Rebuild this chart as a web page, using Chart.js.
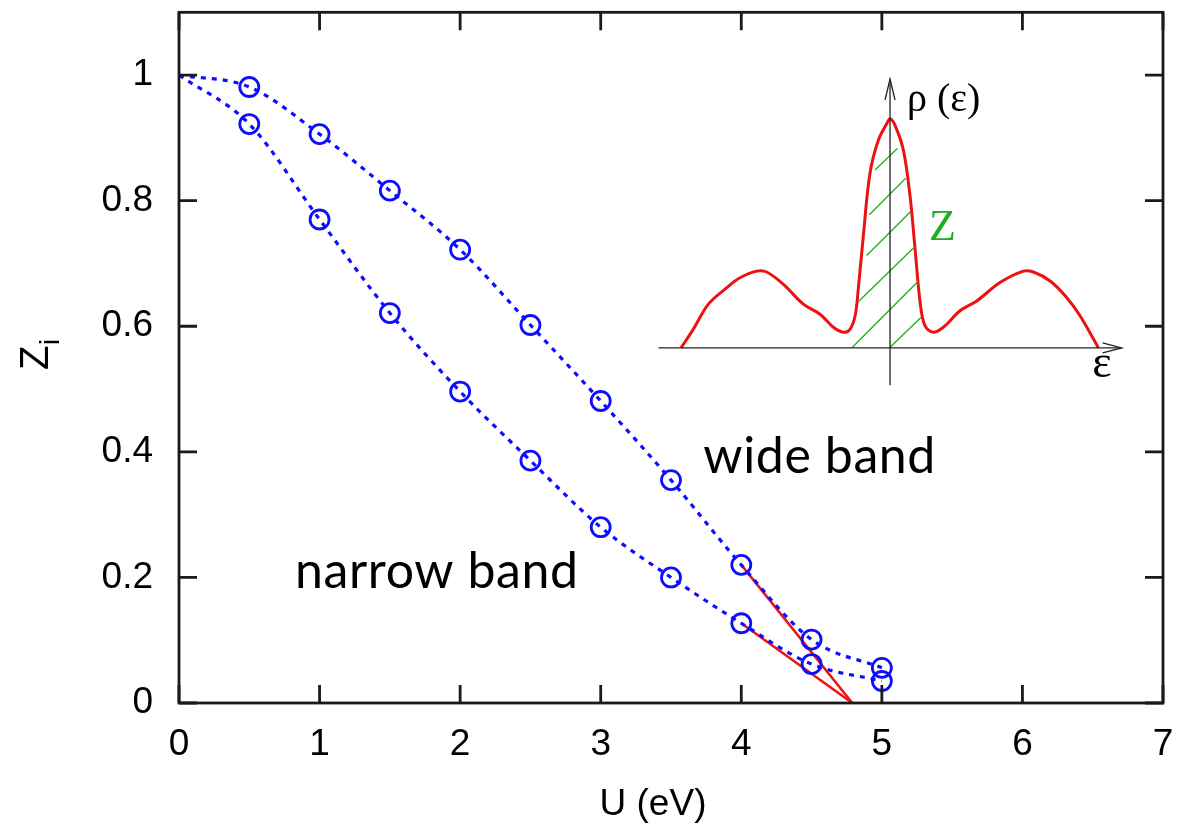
<!DOCTYPE html>
<html>
<head>
<meta charset="utf-8">
<script src="https://cdn.jsdelivr.net/npm/chart.js@4.4.1/dist/chart.umd.min.js"></script>
<style>
  html, body { margin: 0; padding: 0; background: #fff; }
  #wrap { width: 1182px; height: 825px; }
</style>
</head>
<body>
<div id="wrap"><canvas id="zChart"></canvas></div>
<script>
// quasiparticle weight vs U, two bands
var uValues = [0, 0.5, 1, 1.5, 2, 2.5, 3, 3.5, 4, 4.5, 5];
var zWide   = [1, 0.981, 0.906, 0.816, 0.722, 0.602, 0.481, 0.355, 0.220, 0.101, 0.056];
var zNarrow = [1, 0.922, 0.770, 0.621, 0.496, 0.386, 0.280, 0.200, 0.127, 0.062, 0.035];

// red linear extrapolations down to Z = 0
var wideFitU   = [4, 4.79];
var wideFitZ   = [0.220, 0];
var narrowFitU = [4, 4.79];
var narrowFitZ = [0.127, 0];

var xTicks = [0, 1, 2, 3, 4, 5, 6, 7];
var yTicks = [0, 0.2, 0.4, 0.6, 0.8, 1];
var yTickLabels = ['0', '0.2', '0.4', '0.6', '0.8', '1'];

// inset: density of states rho(eps), peak normalised to 1
var dosEps = [-1.0, -0.941, -0.869, -0.781, -0.718, -0.638, -0.590, -0.510, -0.415, -0.335, -0.271, -0.223, -0.191,
              -0.167, -0.152, -0.128, -0.096, -0.056, -0.016, 0, 0.024, 0.064, 0.096, 0.120, 0.144, 0.167,
              0.207, 0.255, 0.335, 0.415, 0.526, 0.638, 0.686, 0.766, 0.845, 0.909, 0.997];
var dosRho = [0, 0.082, 0.191, 0.263, 0.306, 0.335, 0.331, 0.277, 0.191, 0.147, 0.090, 0.068, 0.082,
              0.140, 0.256, 0.487, 0.762, 0.906, 0.978, 1.0, 0.971, 0.863, 0.660, 0.429, 0.198, 0.097,
              0.068, 0.090, 0.162, 0.205, 0.285, 0.335, 0.331, 0.292, 0.220, 0.140, 0];
// hatching under the central peak (start / end of each stroke)
var hatchEpsA = [-0.072, -0.099, -0.112, -0.152, -0.180, 0];
var hatchRhoA = [0.776, 0.581, 0.403, 0.201, 0.003, 0.003];
var hatchEpsB = [0.035, 0.075, 0.099, 0.112, 0.136, 0.148];
var hatchRhoB = [0.870, 0.740, 0.595, 0.436, 0.292, 0.133];
// inset axes extents
var insetAxisEps = [-1.108, 1.108];
var insetAxisRho = [-0.163, 1.173];

var BLUE = '#0d0dff';
var RED = '#ee1111';
var GREEN = '#1fae1f';

function pts(xs, ys) {
    return xs.map(function(x, i){ return {x: x, y: ys[i]}; });
}

var hatchData = [];
hatchEpsA.forEach(function(e, i){
    hatchData.push({x: e, y: hatchRhoA[i]});
    hatchData.push({x: hatchEpsB[i], y: hatchRhoB[i]});
    hatchData.push({x: hatchEpsB[i], y: null});
});

function blueCurve(ys) {
    return {
        data: pts(uValues, ys),
        borderColor: BLUE,
        borderWidth: 3.2,
        borderDash: [5, 6],
        cubicInterpolationMode: 'monotone',
        pointRadius: uValues.map(function(u){ return u === 0 ? 0 : 9.5; }),
        pointBorderWidth: 2.8,
        pointBorderColor: BLUE,
        pointBackgroundColor: 'rgba(0,0,0,0)',
        fill: false
    };
}

function noPad(s) {
    s.paddingTop = 0; s.paddingBottom = 0; s.paddingLeft = 0; s.paddingRight = 0;
}

var framePlugin = {
    id: 'frame',
    afterDatasetsDraw: function(chart) {
        var ctx = chart.ctx, a = chart.chartArea;
        var sx = chart.scales.x, sy = chart.scales.y;
        var si = chart.scales.xi, sr = chart.scales.yi;
        ctx.save();
        // frame + inward ticks on four sides
        ctx.strokeStyle = '#1a1a1a';
        ctx.lineWidth = 2.8;
        ctx.strokeRect(a.left, a.top, a.right - a.left, a.bottom - a.top);
        ctx.beginPath();
        xTicks.forEach(function(v){
            var p = sx.getPixelForValue(v);
            ctx.moveTo(p, a.bottom); ctx.lineTo(p, a.bottom - 18);
            ctx.moveTo(p, a.top); ctx.lineTo(p, a.top + 18);
        });
        yTicks.forEach(function(v){
            var p = sy.getPixelForValue(v);
            ctx.moveTo(a.left, p); ctx.lineTo(a.left + 18, p);
            ctx.moveTo(a.right, p); ctx.lineTo(a.right - 18, p);
        });
        ctx.stroke();

        // inset arrowheads
        ctx.strokeStyle = '#222';
        ctx.lineWidth = 1.3;
        var ex = si.getPixelForValue(insetAxisEps[1]), ey = sr.getPixelForValue(0);
        var tx = si.getPixelForValue(0), ty = sr.getPixelForValue(insetAxisRho[1]);
        ctx.beginPath();
        ctx.moveTo(ex - 19, ey - 5); ctx.lineTo(ex, ey); ctx.lineTo(ex - 19, ey + 5);
        ctx.moveTo(tx - 5, ty + 21); ctx.lineTo(tx, ty); ctx.lineTo(tx + 5, ty + 21);
        ctx.stroke();

        // text labels
        ctx.fillStyle = '#000';
        ctx.textAlign = 'left';
        ctx.textBaseline = 'alphabetic';
        ctx.font = '50px Lato';
        ctx.letterSpacing = '0.6px';
        ctx.fillText('wide band', sx.getPixelForValue(3.73), sy.getPixelForValue(0.367));
        ctx.fillText('narrow band', sx.getPixelForValue(0.826), sy.getPixelForValue(0.183));
        ctx.letterSpacing = '0px';

        ctx.font = '40px "Liberation Serif"';
        ctx.fillText('ρ (ε)', si.getPixelForValue(0.081), sr.getPixelForValue(1.035));
        ctx.font = '46px "Liberation Serif"';
        ctx.fillText('ε', si.getPixelForValue(0.967), sr.getPixelForValue(-0.127));
        ctx.fillStyle = GREEN;
        ctx.font = '44px "Liberation Serif"';
        ctx.fillText('Z', si.getPixelForValue(0.187), sr.getPixelForValue(0.471));

        // axis titles
        ctx.fillStyle = '#000';
        ctx.font = '37px "Liberation Sans"';
        ctx.textAlign = 'center';
        ctx.fillText('U (eV)', 653, 815);
        ctx.translate(48, 370);
        ctx.rotate(-Math.PI / 2);
        ctx.textAlign = 'left';
        ctx.font = '40px "Liberation Sans"';
        ctx.fillText('Z', 0, 0);
        ctx.font = '27px "Liberation Sans"';
        ctx.fillText('i', 25, 11);
        ctx.restore();
    }
};

new Chart(document.getElementById('zChart'), {
    type: 'line',
    data: {
        datasets: [
            blueCurve(zWide),
            blueCurve(zNarrow),
            { data: pts(wideFitU, wideFitZ), borderColor: RED, borderWidth: 2.5, pointRadius: 0, tension: 0 },
            { data: pts(narrowFitU, narrowFitZ), borderColor: RED, borderWidth: 2.5, pointRadius: 0, tension: 0 },
            // inset
            { data: pts(insetAxisEps, [0, 0]), xAxisID: 'xi', yAxisID: 'yi', borderColor: '#222', borderWidth: 1.3, pointRadius: 0 },
            { data: pts([0, 0], insetAxisRho), xAxisID: 'xi', yAxisID: 'yi', borderColor: '#222', borderWidth: 1.3, pointRadius: 0 },
            { data: hatchData, xAxisID: 'xi', yAxisID: 'yi', borderColor: GREEN, borderWidth: 1.3, pointRadius: 0, spanGaps: false },
            { data: pts(dosEps, dosRho), xAxisID: 'xi', yAxisID: 'yi', borderColor: RED, borderWidth: 3, pointRadius: 0, tension: 0.35 }
        ]
    },
    options: {
        responsive: true,
        maintainAspectRatio: false,
        animation: false,
        events: [],
        layout: { padding: { top: 8, right: 19, left: 0, bottom: 0 } },
        plugins: { legend: { display: false }, tooltip: { enabled: false } },
        scales: {
            x: {
                type: 'linear', position: 'bottom', min: 0, max: 7,
                grid: { display: false, drawTicks: false }, border: { display: false },
                afterBuildTicks: function(s){ s.ticks = xTicks.map(function(v){ return {value: v}; }); },
                afterFit: function(s){ s.height = 122; noPad(s); },
                ticks: { color: '#000', padding: 20, maxRotation: 0, font: { family: 'Liberation Sans', size: 37 },
                         callback: function(v){ return String(v); } }
            },
            y: {
                type: 'linear', position: 'left', min: 0, max: 1.1,
                grid: { display: false, drawTicks: false }, border: { display: false },
                afterBuildTicks: function(s){ s.ticks = yTicks.map(function(v){ return {value: v}; }); },
                afterFit: function(s){ s.width = 179; noPad(s); },
                ticks: { color: '#000', padding: 26, font: { family: 'Liberation Sans', size: 37 },
                         callback: function(v, i){ return yTickLabels[i]; } }
            },
            xi: { type: 'linear', display: false, min: -3.402, max: 1.306 },
            yi: { type: 'linear', display: false, position: 'left', min: -1.549, max: 1.464 }
        }
    },
    plugins: [framePlugin]
});
</script>
</body>
</html>
